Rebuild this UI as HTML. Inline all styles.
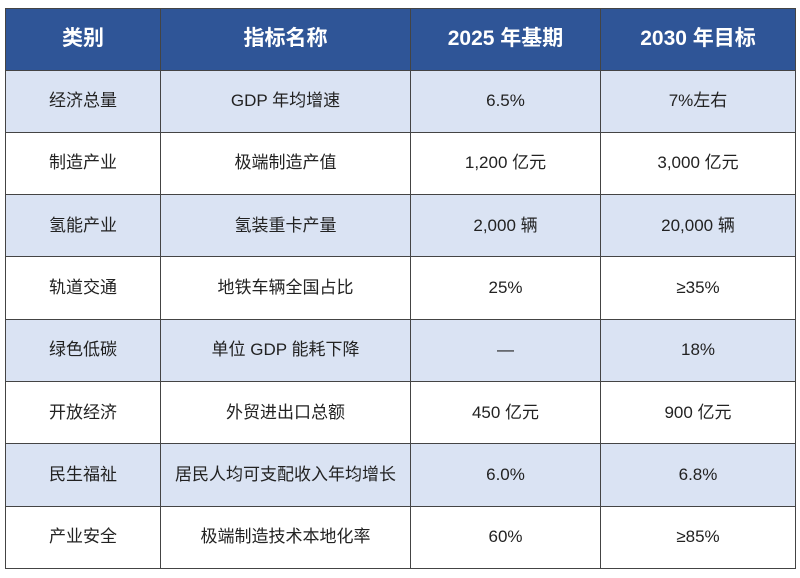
<!DOCTYPE html>
<html><head><meta charset="utf-8"><style>
body{margin:0;background:#fff;width:800px;height:578px;overflow:hidden}
table{position:absolute;left:5px;top:8px;border-collapse:collapse;width:790px;table-layout:fixed;font-family:"Liberation Sans","Noto Sans CJK SC",sans-serif}
td,th{border:1.5px solid #444;text-align:center;padding:0;color:#222;font-size:17px;height:61.3px;line-height:20px}
th{background:#2f5597;color:#fff;font-size:21px;font-weight:bold;height:60.5px}
tr:nth-child(even) td{background:#dae3f3}
</style></head><body>
<table>
<colgroup><col style="width:155px"><col style="width:250px"><col style="width:190px"><col style="width:195px"></colgroup>
<tr><th>类别</th><th>指标名称</th><th>2025 年基期</th><th>2030 年目标</th></tr>
<tr><td>经济总量</td><td>GDP 年均增速</td><td>6.5%</td><td>7%左右</td></tr>
<tr><td>制造产业</td><td>极端制造产值</td><td>1,200 亿元</td><td>3,000 亿元</td></tr>
<tr><td>氢能产业</td><td>氢装重卡产量</td><td>2,000 辆</td><td>20,000 辆</td></tr>
<tr><td>轨道交通</td><td>地铁车辆全国占比</td><td>25%</td><td>≥35%</td></tr>
<tr><td>绿色低碳</td><td>单位 GDP 能耗下降</td><td>—</td><td>18%</td></tr>
<tr><td>开放经济</td><td>外贸进出口总额</td><td>450 亿元</td><td>900 亿元</td></tr>
<tr><td>民生福祉</td><td>居民人均可支配收入年均增长</td><td>6.0%</td><td>6.8%</td></tr>
<tr><td>产业安全</td><td>极端制造技术本地化率</td><td>60%</td><td>≥85%</td></tr>
</table>
</body></html>
